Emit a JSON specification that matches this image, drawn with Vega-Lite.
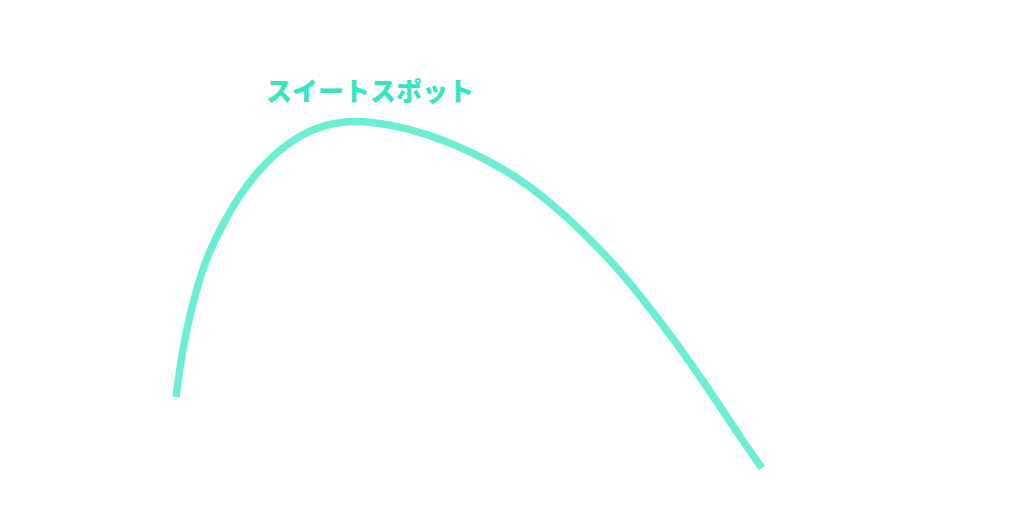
{
  "$schema": "https://vega.github.io/schema/vega-lite/v6.json",
  "autosize": {"type": "fit", "contains": "padding"},
  "padding": 0,
  "width": 1036,
  "height": 528,
  "config": {"view": {"stroke": null}},
  "datasets": {
    "curve": [
      {"x": 176, "y": 131},
      {"x": 180, "y": 161},
      {"x": 185, "y": 191},
      {"x": 192, "y": 221},
      {"x": 200, "y": 251},
      {"x": 210, "y": 278},
      {"x": 222, "y": 302},
      {"x": 237, "y": 329},
      {"x": 257, "y": 356},
      {"x": 277, "y": 376},
      {"x": 300, "y": 393},
      {"x": 327, "y": 404},
      {"x": 355, "y": 408},
      {"x": 393, "y": 403},
      {"x": 427, "y": 394},
      {"x": 460, "y": 381},
      {"x": 483, "y": 370},
      {"x": 517, "y": 351},
      {"x": 550, "y": 326},
      {"x": 583, "y": 296},
      {"x": 617, "y": 261},
      {"x": 650, "y": 220},
      {"x": 680, "y": 180},
      {"x": 700, "y": 151},
      {"x": 720, "y": 122},
      {"x": 740, "y": 91},
      {"x": 762, "y": 60}
    ],
    "label": [
      {"x": 370, "y": 435, "text": "スイートスポット"}
    ]
  },
  "layer": [
    {
      "data": {"name": "curve"},
      "mark": {"type": "line", "interpolate": "basis", "color": "#6BEED3", "strokeWidth": 7.5, "strokeCap": "butt"},
      "encoding": {
        "x": {"field": "x", "type": "quantitative", "scale": {"domain": [0, 1036]}, "axis": null},
        "y": {"field": "y", "type": "quantitative", "scale": {"domain": [0, 528]}, "axis": null}
      }
    },
    {
      "data": {"name": "label"},
      "mark": {"type": "text", "font": "Noto Sans CJK JP", "fontWeight": 900, "fontSize": 26, "color": "#36E5C1", "align": "center", "baseline": "middle"},
      "encoding": {
        "x": {"field": "x", "type": "quantitative", "scale": {"domain": [0, 1036]}, "axis": null},
        "y": {"field": "y", "type": "quantitative", "scale": {"domain": [0, 528]}, "axis": null},
        "text": {"field": "text"}
      }
    }
  ]
}
